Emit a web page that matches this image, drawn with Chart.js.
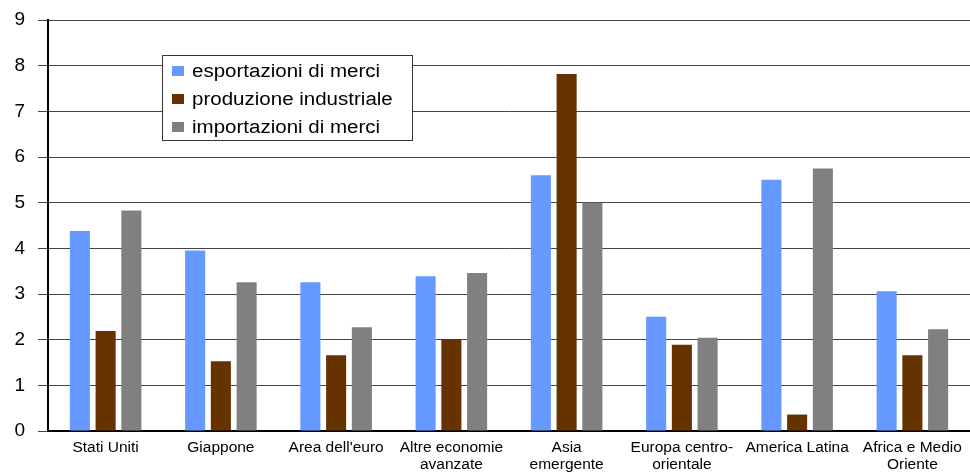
<!DOCTYPE html>
<html>
<head>
<meta charset="utf-8">
<script src="https://cdn.jsdelivr.net/npm/chart.js@4/dist/chart.umd.min.js"></script>
<style>
  html, body { margin: 0; padding: 0; background: #fff; }
  #wrap { width: 970px; height: 475px; }
</style>
</head>
<body>
<div id="wrap"><canvas id="grafico"></canvas></div>
<script>
const categorie = [
  'Stati Uniti', 'Giappone', "Area dell'euro", ['Altre economie', 'avanzate'],
  ['Asia', 'emergente'], ['Europa centro-', 'orientale'], 'America Latina', ['Africa e Medio', 'Oriente']
];
const esportazioni = [4.38, 3.95, 3.26, 3.39, 5.60, 2.50, 5.50, 3.06];
const produzione = [2.19, 1.53, 1.66, 2.01, 7.82, 1.89, 0.36, 1.66];
const importazioni = [4.83, 3.26, 2.27, 3.46, 5.00, 2.04, 5.75, 2.23];
const tickY = [0, 1, 2, 3, 4, 5, 6, 7, 8, 9];

const FONT = 'Liberation Sans, Arial, sans-serif';

// legenda disegnata a mano, riquadro dentro l'area del grafico
const legendaBox = {
  id: 'legendaBox',
  afterDraw(chart) {
    const ctx = chart.ctx;
    const a = chart.chartArea;
    const x = a.left + 114, y = a.top + 35, w = 250, h = 85;
    ctx.save();
    ctx.fillStyle = '#fff';
    ctx.fillRect(x, y, w, h);
    ctx.strokeStyle = '#333';
    ctx.lineWidth = 1;
    ctx.strokeRect(x + 0.5, y + 0.5, w, h);
    ctx.font = '18px ' + FONT;
    ctx.textBaseline = 'middle';
    chart.data.datasets.forEach((ds, i) => {
      const cy = y + 16 + i * 28;
      ctx.fillStyle = ds.backgroundColor;
      ctx.fillRect(x + 10, cy - 5, 12, 10);
      ctx.fillStyle = '#000';
      // testo leggermente allargato in orizzontale
      ctx.save();
      ctx.translate(x + 30, cy + 1);
      ctx.scale(1.14, 1);
      ctx.fillText(ds.label, 0, 0);
      ctx.restore();
    });
    ctx.restore();
  }
};

new Chart(document.getElementById('grafico'), {
  type: 'bar',
  data: {
    labels: categorie,
    datasets: [
      { label: 'esportazioni di merci', data: esportazioni, backgroundColor: '#6699ff' },
      { label: 'produzione industriale', data: produzione, backgroundColor: '#663300' },
      { label: 'importazioni di merci', data: importazioni, backgroundColor: '#808080' }
    ]
  },
  options: {
    responsive: true,
    maintainAspectRatio: false,
    animation: false,
    layout: { padding: { top: 20, right: 0, left: 0, bottom: 0 } },
    datasets: { bar: { categoryPercentage: 0.67, barPercentage: 0.78 } },
    plugins: { legend: { display: false }, tooltip: { enabled: false } },
    scales: {
      x: {
        grid: { display: false, drawTicks: false },
        border: { color: '#000', width: 2 },
        ticks: { color: '#000', font: { family: FONT, size: 15.5, lineHeight: 1.1 }, padding: 8, maxRotation: 0, autoSkip: false },
        afterFit(s) { s.height = 44; }
      },
      y: {
        min: 0, max: 9,
        afterBuildTicks(s) { s.ticks = tickY.map(v => ({ value: v })); },
        grid: { color: '#444', lineWidth: 1, tickLength: 10, tickColor: '#444' },
        border: { color: '#000', width: 2 },
        ticks: { color: '#000', font: { family: FONT, size: 19 }, padding: 13 },
        afterFit(s) { s.width = 48; s.paddingTop = 0; s.paddingBottom = 0; }
      }
    }
  },
  plugins: [legendaBox]
});
</script>
</body>
</html>
